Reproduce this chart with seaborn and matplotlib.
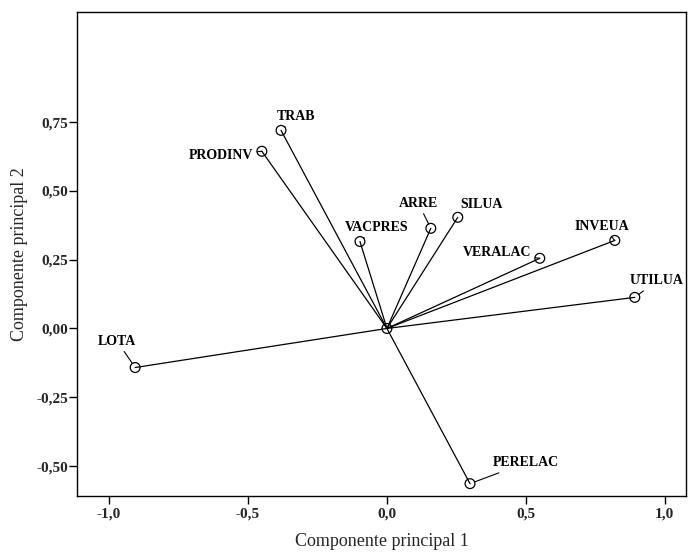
import matplotlib
matplotlib.use("Agg")
import matplotlib.pyplot as plt
import seaborn as sns
import pandas as pd
from matplotlib.ticker import FixedLocator, FuncFormatter

# ---- data ----
variables = ["TRAB", "PRODINV", "VACPRES", "ARRE", "SILUA", "VERALAC",
             "INVEUA", "UTILUA", "LOTA", "PERELAC"]
comp1 = [-0.381, -0.450, -0.097, 0.158, 0.255, 0.550, 0.820, 0.892, -0.906, 0.299]
comp2 = [0.720, 0.644, 0.316, 0.364, 0.404, 0.255, 0.320, 0.113, -0.142, -0.564]
xticks = [-1.0, -0.5, 0.0, 0.5, 1.0]
yticks = [-0.50, -0.25, 0.00, 0.25, 0.50, 0.75]

# label offsets (points) and alignment - styling only
label_style = {
    "TRAB": (11, 10, "center"),
    "PRODINV": (-6, -3, "right"),
    "VACPRES": (12, 10, "center"),
    "ARRE": (-9, 18, "center"),
    "SILUA": (17, 9, "center"),
    "VERALAC": (-6, 4, "right"),
    "INVEUA": (-9, 10, "center"),
    "UTILUA": (16, 12, "center"),
    "LOTA": (-13, 19, "center"),
    "PERELAC": (40, 15, "center"),
}

df = pd.DataFrame({"var": variables, "c1": comp1, "c2": comp2})

sns.set_theme(style="white")
plt.rcParams["font.family"] = ["Liberation Serif", "DejaVu Serif"]

fig = plt.figure(figsize=(6.88, 5.52), dpi=100)
ax = fig.add_axes([0.112, 0.1014, 0.885, 0.8768])

# vectors from origin
for _, r in df.iterrows():
    ax.plot([0, r.c1], [0, r.c2], color="black", lw=0.9, zorder=1)

sns.scatterplot(data=df, x="c1", y="c2", ax=ax, s=50, facecolor="none",
                edgecolor="black", linewidth=0.9, zorder=3, legend=False)
sns.scatterplot(x=[0.0], y=[0.0], ax=ax, s=50, facecolor="none",
                edgecolor="black", linewidth=0.9, zorder=3, legend=False)

for _, r in df.iterrows():
    dx, dy, ha = label_style[r["var"]]
    ax.annotate(r["var"], xy=(r.c1, r.c2), xytext=(dx, dy),
                textcoords="offset points", ha=ha, va="center",
                fontsize=10, fontweight="bold", color="black",
                arrowprops=dict(arrowstyle="-", color="black", lw=0.8,
                                shrinkA=0.5, shrinkB=3.5))

ax.set_xlim(-1.115, 1.076)
ax.set_ylim(-0.609, 1.15)
ax.xaxis.set_major_locator(FixedLocator(xticks))
ax.yaxis.set_major_locator(FixedLocator(yticks))
ax.xaxis.set_major_formatter(FuncFormatter(lambda v, p: f"{v:.1f}".replace(".", ",")))
ax.yaxis.set_major_formatter(FuncFormatter(lambda v, p: f"{v:.2f}".replace(".", ",")))
ax.tick_params(axis="both", which="major", direction="out", length=6, width=1,
               color="black", labelsize=11, bottom=True, left=True)
ax.tick_params(axis="y", pad=0.5)
ax.tick_params(axis="x", pad=2)
for lab in ax.get_xticklabels() + ax.get_yticklabels():
    lab.set_fontweight("bold")
for sp in ax.spines.values():
    sp.set_color("black")
    sp.set_linewidth(1.0)

ax.set_xlabel("Componente principal 1", fontsize=13, labelpad=9)
ax.set_ylabel("Componente principal 2", fontsize=13, labelpad=6)
ax.grid(False)

fig.savefig("out.png", dpi=100)
